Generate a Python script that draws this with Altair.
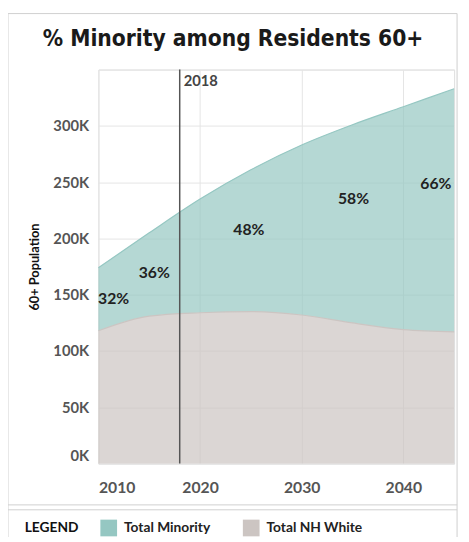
import altair as alt
import pandas as pd

# ---- data (thousands of residents aged 60+) ----
years = [2010, 2015, 2020, 2025, 2030, 2035, 2040, 2045]
nh_white = [118, 131, 134, 135, 132, 125, 119, 117]
minority = [56, 74, 101, 126, 151, 176, 198, 216]

label_years = [2011.5, 2015.5, 2024.8, 2035.1, 2043.2]
label_values = [146, 169, 207, 235, 248]
label_texts = ["32%", "36%", "48%", "58%", "66%"]

marker_year = [2018]
marker_text = ["2018"]

title_text = ["% Minority among Residents 60+"]

series_names = ["Total Minority", "Total NH White"]
teal = "#95C7C2"
grey = "#CCC5C2"

rows = []
for y, w, m in zip(years, nh_white, minority):
    rows.append({"year": y, "series": "Total NH White", "value": w, "ord": 0})
    rows.append({"year": y, "series": "Total Minority", "value": m, "ord": 1})
df = pd.DataFrame(rows)
labels_df = pd.DataFrame({"year": label_years, "value": label_values, "text": label_texts})
marker_df = pd.DataFrame({"year": marker_year, "text": marker_text})
title_df = pd.DataFrame({"text": title_text})

FONT = "Lato"
TITLE_FONT = "'DejaVu Sans Condensed', 'Roboto', sans-serif"

xscale = alt.Scale(domain=[2010, 2045], nice=False, zero=False)
yscale = alt.Scale(domain=[0, 350], nice=False)

areas = alt.Chart(df).mark_area(
    interpolate="monotone",
    line={"strokeWidth": 1.2, "color": "#86B8B3"},
).encode(
    x=alt.X("year:Q", scale=xscale,
            axis=alt.Axis(values=[2010, 2020, 2030, 2040], format="d", title=None,
                          labelFlush=True, labelFontSize=16, labelFontWeight="bold",
                          labelColor="#555555", labelFont=FONT, labelPadding=16,
                          domain=False, ticks=False, grid=True, gridColor="#e4e4e4")),
    y=alt.Y("value:Q", stack="zero", scale=yscale,
            axis=alt.Axis(values=[0, 50, 100, 150, 200, 250, 300, 350],
                          labelExpr="datum.value >= 350 ? '' : datum.value + 'K'",
                          title="60+ Population", titleFontSize=13, titleFontWeight="bold",
                          titleColor="#111111", titleFont=FONT, titlePadding=12,
                          labelFlush=True, labelOverlap=False,
                          labelFontSize=15, labelFontWeight="bold", labelColor="#555555",
                          labelFont=FONT, labelPadding=10,
                          domain=False, ticks=False, grid=True, gridColor="#e4e4e4")),
    color=alt.Color("series:N",
                    scale=alt.Scale(domain=series_names, range=[teal, grey]),
                    legend=alt.Legend(orient="none", legendX=-75, legendY=458,
                                      direction="horizontal", title="LEGEND",
                                      titleOrient="left", titleFontSize=14,
                                      titleFontWeight="bold", titleColor="#111111",
                                      titleFont=FONT, titlePadding=22,
                                      labelFontSize=14, labelFontWeight="bold",
                                      labelColor="#222222", labelFont=FONT,
                                      symbolType="square", symbolSize=289,
                                      symbolStrokeWidth=0, symbolOpacity=1,
                                      columnPadding=33, labelOffset=7)),
    order=alt.Order("ord:Q"),
)

rule = alt.Chart(marker_df).mark_rule(color="#555555", strokeWidth=1.5).encode(
    x=alt.X("year:Q", scale=xscale)
)
rule_text = alt.Chart(marker_df).mark_text(
    align="left", baseline="middle", dx=4, fontSize=15, fontWeight="bold",
    color="#444444", font=FONT
).encode(x=alt.X("year:Q", scale=xscale), y=alt.value(12), text="text:N")

pct = alt.Chart(labels_df).mark_text(
    fontSize=16, fontWeight="bold", color="#222222", font=FONT
).encode(x=alt.X("year:Q", scale=xscale), y=alt.Y("value:Q", scale=yscale), text="text:N")

title = alt.Chart(title_df).mark_text(
    align="center", baseline="alphabetic", fontSize=23, fontWeight="bold",
    font=TITLE_FONT, color="#1a1a1a"
).encode(x=alt.value(137), y=alt.value(-24), text="text:N")

one = alt.Data(values=[{}])
frame_color = "#cfcfcf"
frame = [
    alt.Chart(one).mark_rule(color=frame_color, strokeWidth=1).encode(
        x=alt.value(-92), y=alt.value(-57), y2=alt.value(476)),
    alt.Chart(one).mark_rule(color=frame_color, strokeWidth=1).encode(
        x=alt.value(365), y=alt.value(-57), y2=alt.value(476)),
    alt.Chart(one).mark_rule(color=frame_color, strokeWidth=1).encode(
        x=alt.value(-92), x2=alt.value(365), y=alt.value(-57)),
    alt.Chart(one).mark_rule(color=frame_color, strokeWidth=1).encode(
        x=alt.value(-92), x2=alt.value(365), y=alt.value(443)),
    alt.Chart(one).mark_rule(color=frame_color, strokeWidth=1).encode(
        x=alt.value(-92), x2=alt.value(365), y=alt.value(448)),
]

chart = alt.layer(areas, rule, rule_text, pct, title, *frame).properties(
    width=362, height=401,
    autosize=alt.AutoSizeParams(type="none"),
    padding={"left": 92, "top": 58, "right": 7, "bottom": 70},
).configure_view(stroke="#e0e0e0", strokeWidth=1).configure(background="white")

chart.save("out.html", embed_options={"renderer": "svg", "actions": False})
